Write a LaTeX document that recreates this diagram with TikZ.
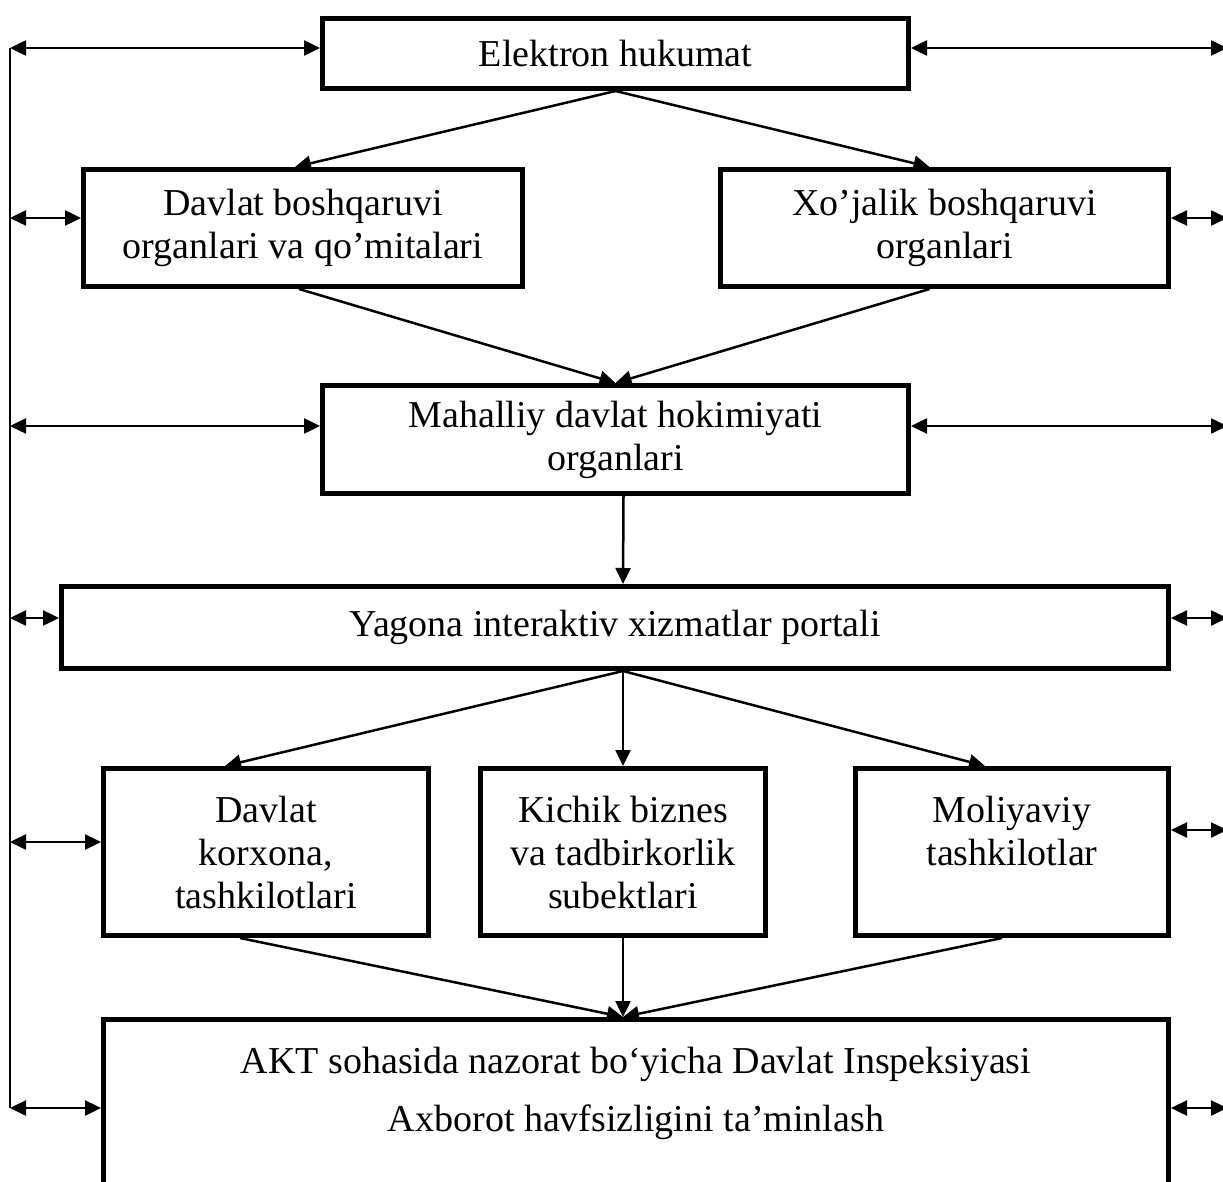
\documentclass[tikz,border=0pt]{standalone}
\usepackage{fontspec}
\setmainfont{Liberation Serif}
\usetikzlibrary{arrows.meta,positioning}

\begin{document}
\begin{tikzpicture}[x=1pt, y=-1pt, font=\fontsize{38}{43}\selectfont,
    box/.style={draw, line width=5pt, align=center, inner sep=4pt, anchor=north west},
    flow/.style={-{Triangle[length=16pt,width=15pt]}, line width=2.5pt},
    both/.style={{Triangle[length=16pt,width=15pt]}-{Triangle[length=16pt,width=15pt]}, line width=2.5pt},
    bus/.style={line width=2.5pt},
  ]
% --- Frame ---------------------------------------------------------------------------
\useasboundingbox (0,0) rectangle (1223,1182);

% --- Boxes ---------------------------------------------------------------------------
\node[box, minimum width=586pt, minimum height=70pt] (eh) at (320,16) {Elektron hukumat};
\node[box, minimum width=439pt, minimum height=117pt] (dbo) at (81,167) {Davlat boshqaruvi\\organlari va qo’mitalari};
\node[box, minimum width=448pt, minimum height=117pt] (xbo) at (718,167) {Xo’jalik boshqaruvi\\organlari};
\node[box, minimum width=586pt, minimum height=108pt] (mdh) at (320,383) {Mahalliy davlat hokimiyati\\organlari};
\node[box, minimum width=1107pt, minimum height=82pt] (yip) at (59,584) {Yagona interaktiv xizmatlar portali};
\node[box, minimum width=325pt, minimum height=167pt] (dkt) at (101,766) {Davlat\\korxona,\\tashkilotlari};
\node[box, minimum width=285pt, minimum height=167pt] (kbt) at (478,766) {Kichik biznes\\va tadbirkorlik\\subektlari};
\node[box, minimum width=313pt, minimum height=167pt] (mt) at (853,766) {Moliyaviy\\tashkilotlar\\\mbox{}};
\node[box, minimum width=1065pt, minimum height=182pt] (akt) at (101,1017) {AKT sohasida nazorat bo‘yicha Davlat Inspeksiyasi\\[15pt]Axborot havfsizligini ta’minlash\\\mbox{}};

% --- Bus points ----------------------------------------------------------------------
\coordinate (l1) at (10,48);   \coordinate (r1) at (1227,48);
\coordinate (l2) at (10,218);  \coordinate (r2) at (1227,218);
\coordinate (l3) at (10,426);  \coordinate (r3) at (1227,426);
\coordinate (l4) at (10,618);  \coordinate (r4) at (1227,618);
\coordinate (l5) at (10,842);  \coordinate (r5) at (1227,830);
\coordinate (l6) at (10,1108); \coordinate (r6) at (1227,1108);

% --- Flow ----------------------------------------------------------------------------
\draw[flow] (eh.south) -- ([xshift=-8pt]dbo.north);
\draw[flow] (eh.south) -- ([xshift=-15pt]xbo.north);
\draw[flow] ([xshift=-4pt]dbo.south) -- (mdh.north);
\draw[flow] ([xshift=-15pt]xbo.south) -- (mdh.north);
\draw[flow] ([xshift=8pt]mdh.south) -- ([xshift=8pt]yip.north);
\draw[flow] ([xshift=8pt]yip.south) -- ([xshift=-41pt]dkt.north);
\draw[flow] ([xshift=8pt]yip.south) -- (kbt.north);
\draw[flow] ([xshift=8pt]yip.south) -- ([xshift=-27pt]mt.north);
\draw[flow] ([xshift=-26pt]dkt.south) -- (kbt.south |- akt.north);
\draw[flow] (kbt.south) -- (kbt.south |- akt.north);
\draw[flow] ([xshift=-10pt]mt.south) -- (kbt.south |- akt.north);

% --- Left and right links ------------------------------------------------------------
\draw[bus] (l1) -- (l6);
\draw[both] (l1) -- (l1 -| eh.west);
\draw[both] (l2) -- (l2 -| dbo.west);
\draw[both] (l3) -- (l3 -| mdh.west);
\draw[both] (l4) -- (l4 -| yip.west);
\draw[both] (l5) -- (l5 -| dkt.west);
\draw[both] (l6) -- (l6 -| akt.west);
\draw[both] (r1 -| eh.east) -- (r1);
\draw[both] (r2 -| xbo.east) -- (r2);
\draw[both] (r3 -| mdh.east) -- (r3);
\draw[both] (r4 -| yip.east) -- (r4);
\draw[both] (r5 -| mt.east) -- (r5);
\draw[both] (r6 -| akt.east) -- (r6);
\end{tikzpicture}
\end{document}
